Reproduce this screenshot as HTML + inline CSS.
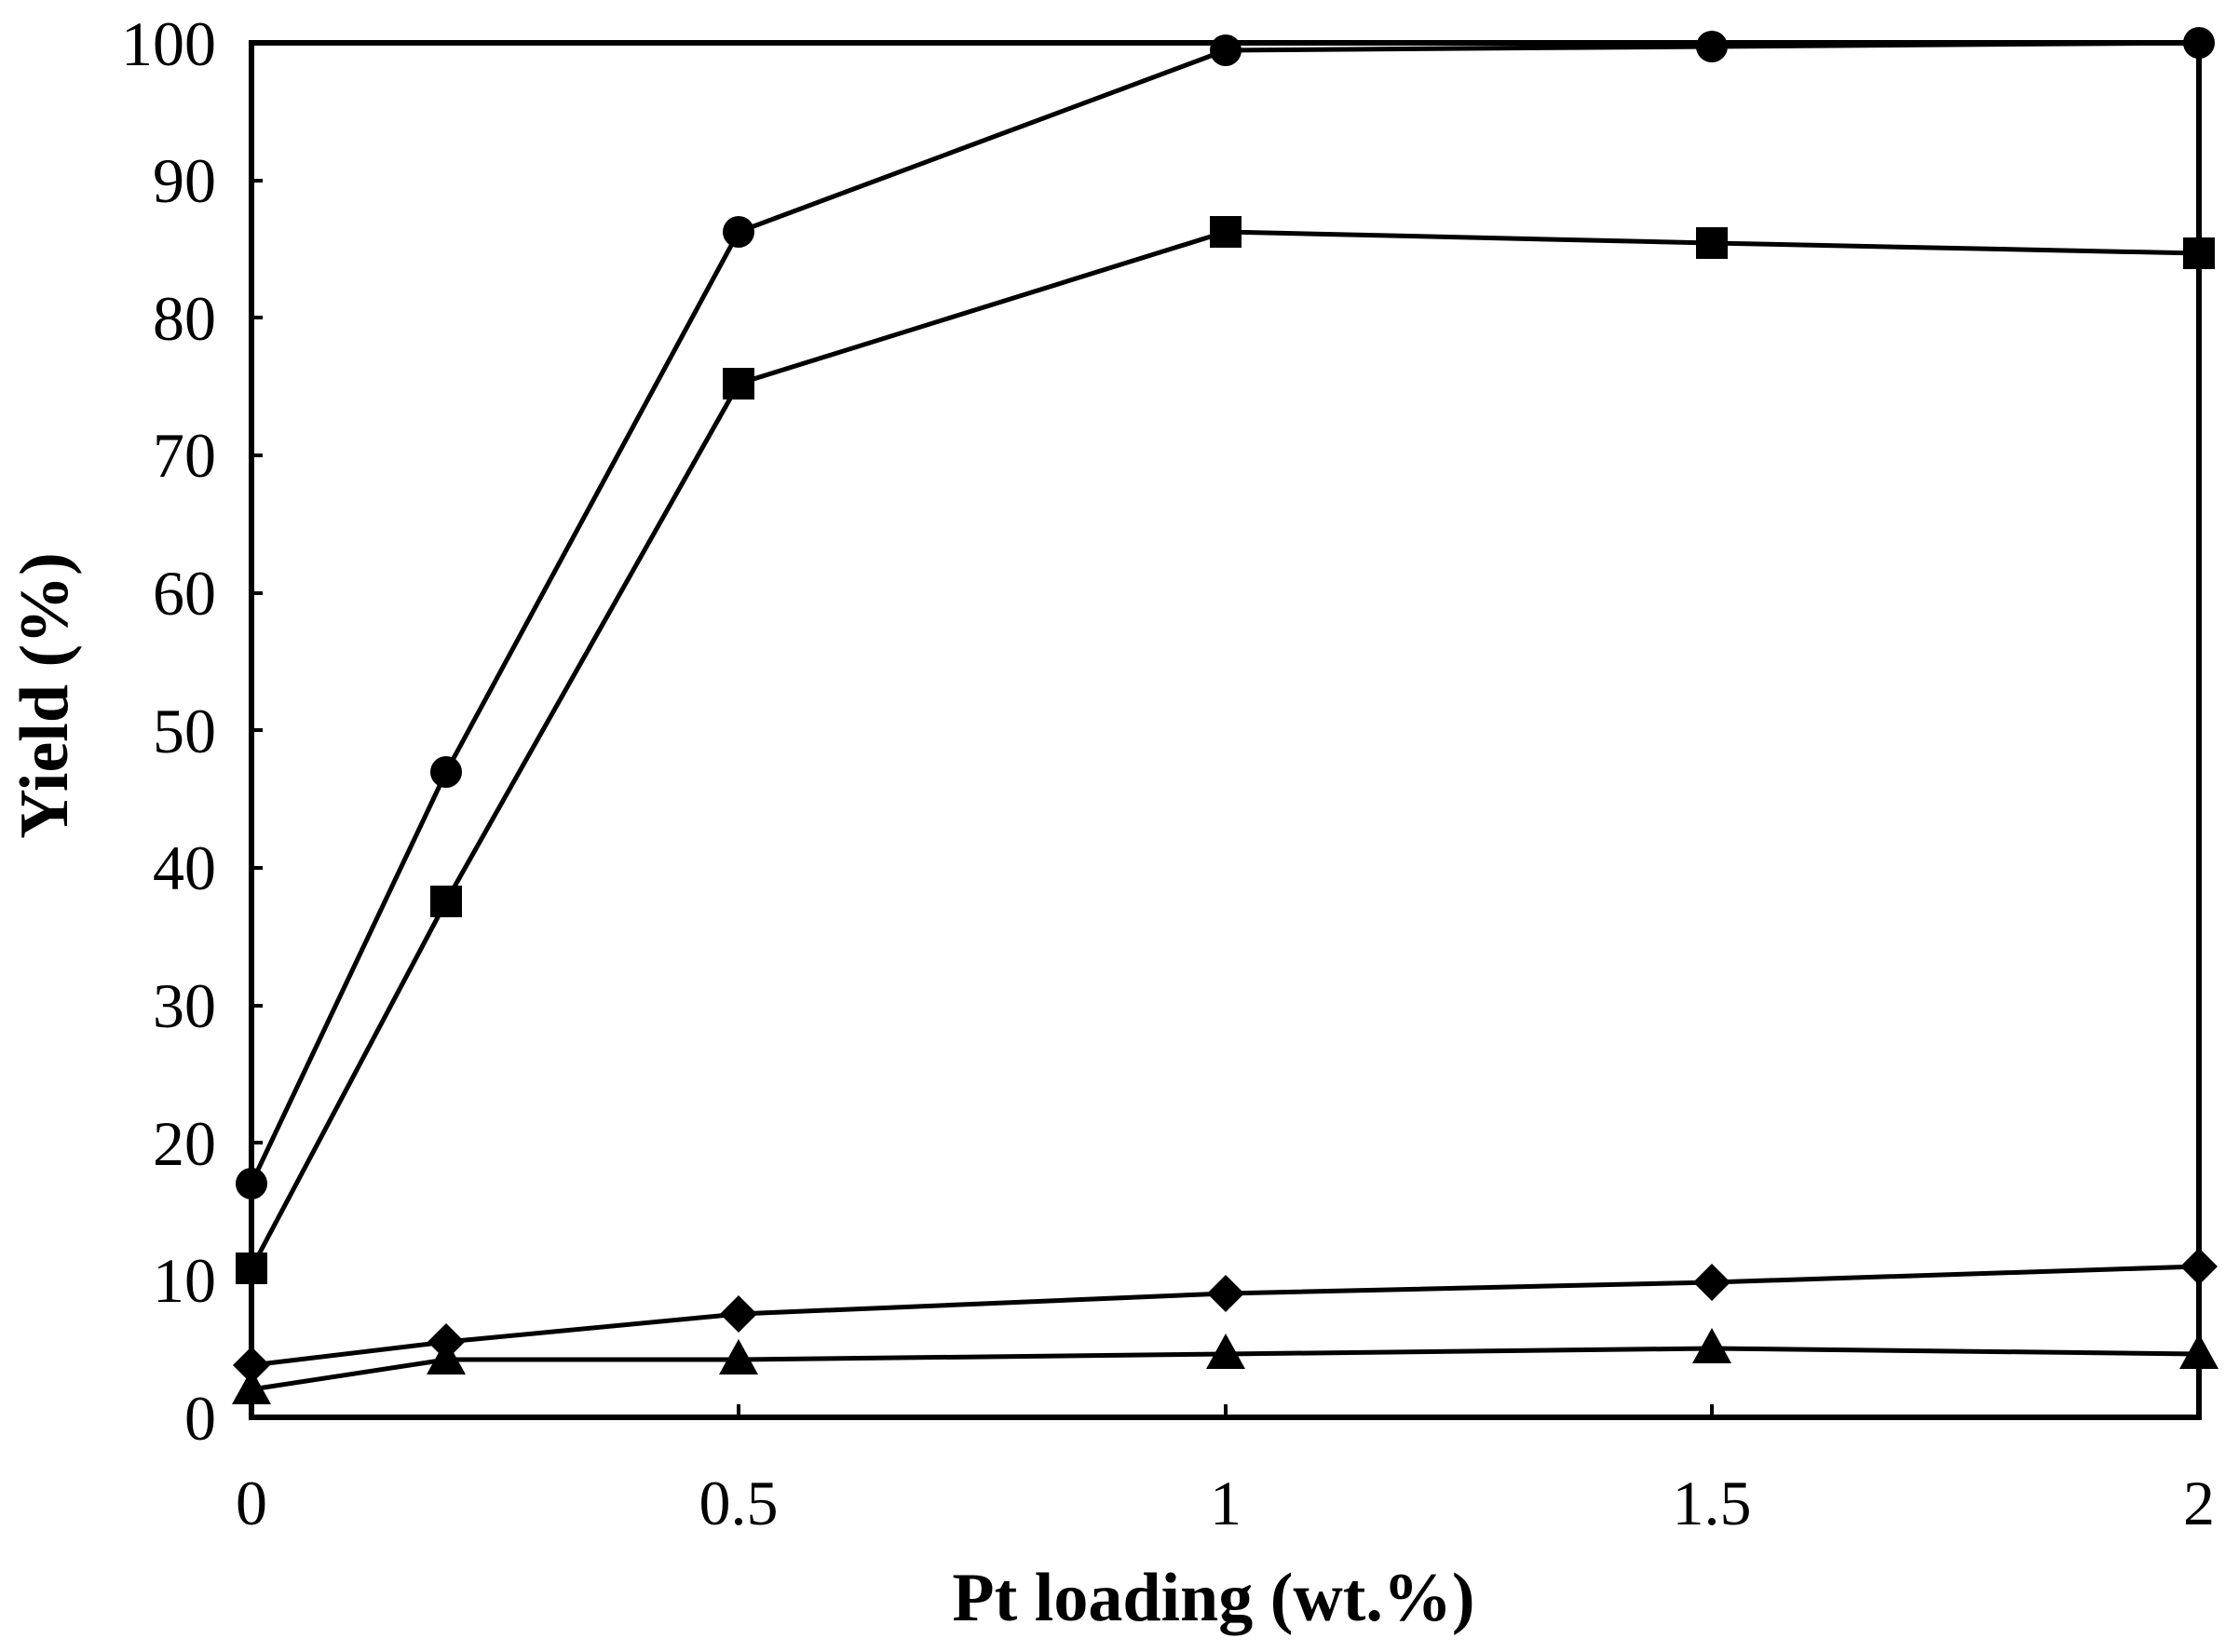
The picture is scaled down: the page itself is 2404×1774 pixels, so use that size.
<!DOCTYPE html>
<html><head><style>body{margin:0;background:#fff}svg{display:block}</style></head><body>
<svg width="2404" height="1774" viewBox="0 0 2404 1774" xmlns="http://www.w3.org/2000/svg" font-family="'Liberation Serif',serif">
<g stroke="#000" stroke-width="4">
<line x1="270" y1="1375" x2="282" y2="1375"/><line x1="270" y1="1227" x2="282" y2="1227"/><line x1="270" y1="1080" x2="282" y2="1080"/><line x1="270" y1="932" x2="282" y2="932"/><line x1="270" y1="784" x2="282" y2="784"/><line x1="270" y1="637" x2="282" y2="637"/><line x1="270" y1="489" x2="282" y2="489"/><line x1="270" y1="341" x2="282" y2="341"/><line x1="270" y1="194" x2="282" y2="194"/>
<line x1="793" y1="1522" x2="793" y2="1508"/><line x1="1316" y1="1522" x2="1316" y2="1508"/><line x1="1838" y1="1522" x2="1838" y2="1508"/>
</g>
<rect x="270" y="46" width="2091" height="1476" fill="none" stroke="#000" stroke-width="6"/>
<g font-size="68" text-anchor="end" fill="#000">
<text x="232" y="1546">0</text><text x="232" y="1398">10</text><text x="232" y="1251">20</text><text x="232" y="1103">30</text><text x="232" y="955">40</text><text x="232" y="808">50</text><text x="232" y="660">60</text><text x="232" y="512">70</text><text x="232" y="365">80</text><text x="232" y="217">90</text><text x="232" y="70">100</text>
</g>
<g font-size="68" text-anchor="middle" fill="#000">
<text x="270" y="1637">0</text><text x="793" y="1637">0.5</text><text x="1316" y="1637">1</text><text x="1838" y="1637">1.5</text><text x="2361" y="1637">2</text>
</g>
<text x="1303" y="1740" font-size="74" font-weight="bold" text-anchor="middle">Pt loading (wt.%)</text>
<text transform="translate(72,747) rotate(-90)" font-size="74" font-weight="bold" text-anchor="middle">Yield (%)</text>
<g fill="none" stroke="#000" stroke-width="5">
<polyline points="270,1271 479,829 793,249 1316,54 1838,50 2361,46"/>
<polyline points="270,1362 479,968 793,412 1316,249 1838,261 2361,272"/>
<polyline points="270,1466 479,1441 793,1411 1316,1389 1838,1377 2361,1360"/>
<polyline points="270,1492 479,1460 793,1460 1316,1454 1838,1448 2361,1454"/>
</g>
<g fill="#000">
<circle cx="270" cy="1271" r="17"/><circle cx="479" cy="829" r="17"/><circle cx="793" cy="249" r="17"/><circle cx="1316" cy="54" r="17"/><circle cx="1838" cy="50" r="17"/><circle cx="2361" cy="46" r="17"/>
<rect x="253" y="1345" width="34" height="34"/><rect x="462" y="951" width="34" height="34"/><rect x="776" y="395" width="34" height="34"/><rect x="1299" y="232" width="34" height="34"/><rect x="1821" y="244" width="34" height="34"/><rect x="2344" y="255" width="34" height="34"/>
<path d="M270,1446l20,20l-20,20l-20,-20z"/><path d="M479,1421l20,20l-20,20l-20,-20z"/><path d="M793,1391l20,20l-20,20l-20,-20z"/><path d="M1316,1369l20,20l-20,20l-20,-20z"/><path d="M1838,1357l20,20l-20,20l-20,-20z"/><path d="M2361,1340l20,20l-20,20l-20,-20z"/>
<path d="M270,1470l21,38h-42z"/><path d="M479,1438l21,38h-42z"/><path d="M793,1438l21,38h-42z"/><path d="M1316,1432l21,38h-42z"/><path d="M1838,1426l21,38h-42z"/><path d="M2361,1432l21,38h-42z"/>
</g>
</svg>
</body></html>
